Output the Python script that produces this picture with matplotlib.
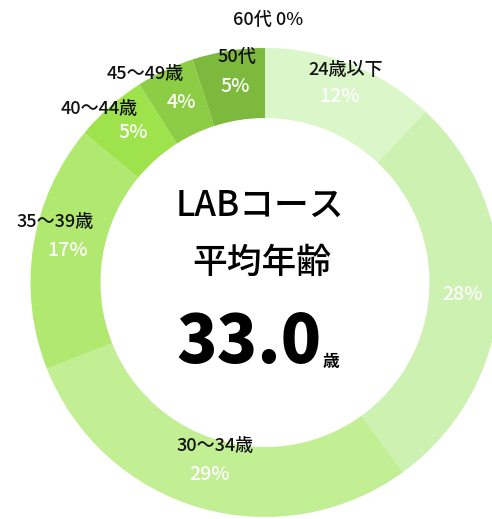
import matplotlib
matplotlib.use("Agg")
import matplotlib.pyplot as plt

plt.rcParams['font.family'] = ['Noto Sans CJK JP', 'DejaVu Sans']

categories = ["24歳以下", "25〜29歳", "30〜34歳", "35〜39歳", "40〜44歳", "45〜49歳", "50代", "60代"]
values = [12, 28, 29, 17, 5, 4, 5, 0]
colors = ["#dbf6c8", "#cdf1b0", "#c2ee94", "#b0e870", "#9ee24c", "#8dcd45", "#7cb93d", "#6aa830"]
title_line1 = "LABコース"
title_line2 = "平均年齢"
avg_age = "33.0"

W, H = 492, 519
fig = plt.figure(figsize=(W / 100, H / 100), dpi=100)
ax = fig.add_axes([0, 0, 1, 1])

cx, cy = 265, H - 282.5
R = 234.5
ax.pie(values, colors=colors, startangle=90, counterclock=False,
       radius=R, center=(cx, cy), frame=True,
       wedgeprops=dict(width=70, linewidth=0))
ax.set_xlim(0, W)
ax.set_ylim(0, H)
ax.set_aspect('equal')
ax.axis('off')

def t(x, y, s, color="#111111", size=13, weight="medium", **kw):
    ax.text(x, H - y, s, color=color, fontsize=size, fontweight=weight,
            ha="center", va="center", **kw)

pc = dict(color="white", size=14)
# segment labels (name, percent)
t(268, 20, f"{categories[7]} {values[7]}%")
t(237, 57, categories[6]); t(235, 87, f"{values[6]}%", **pc)
t(145, 74, categories[5]); t(181, 103, f"{values[5]}%", **pc)
t(99, 109, categories[4]); t(133, 133, f"{values[4]}%", **pc)
t(346, 70, categories[0]); t(340, 97, f"{values[0]}%", **pc)
t(55, 222, categories[3]); t(68, 251, f"{values[3]}%", **pc)
t(462, 295, f"{values[1]}%", **pc)
t(215, 446, categories[2]); t(210, 474, f"{values[2]}%", **pc)

# center text
t(260, 206, title_line1, color="black", size=25, weight="medium")
t(262, 263, title_line2, color="black", size=25, weight="medium")
t(249, 343, avg_age, color="black", size=48, weight="black")
t(331, 362, "歳", color="black", size=12, weight="bold")

fig.savefig("out.png", dpi=100)
